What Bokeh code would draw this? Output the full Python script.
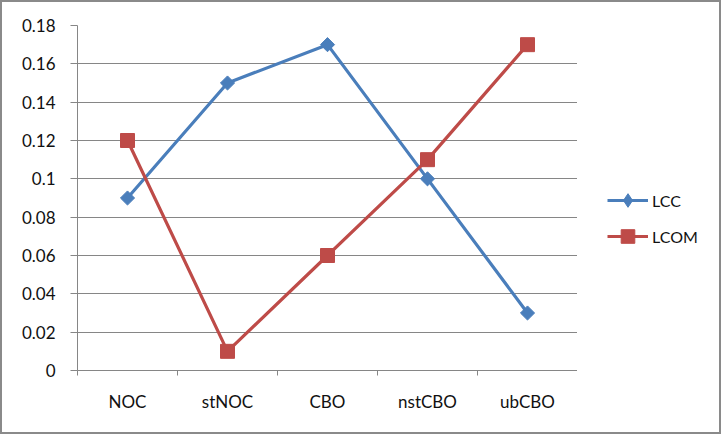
import numpy as np
from bokeh.plotting import figure
from bokeh.layouts import row
from bokeh.models import Range1d, FixedTicker, Legend, LegendItem
from bokeh.embed import file_html
from bokeh.resources import INLINE

categories = ["NOC", "stNOC", "CBO", "nstCBO", "ubCBO"]
lcc = [0.09, 0.15, 0.17, 0.10, 0.03]
lcom = [0.12, 0.01, 0.06, 0.11, 0.17]
y_tick_values = [0, 0.02, 0.04, 0.06, 0.08, 0.1, 0.12, 0.14, 0.16, 0.18]
y_tick_labels = ["0", "0.02", "0.04", "0.06", "0.08", "0.1", "0.12", "0.14", "0.16", "0.18"]
series_names = ["LCC", "LCOM"]

FONT = "Lato"
GREY = "#868686"
TEXT = "#111111"
BLUE = "#4A7EBB"
RED = "#BE4B48"

n = len(categories)
x = [i + 0.5 for i in range(n)]

# ---- main chart ----
p = figure(width=575, height=430, output_backend="svg", toolbar_location=None,
           x_range=Range1d(0, n), y_range=Range1d(y_tick_values[0], y_tick_values[-1]),
           min_border_left=75, min_border_right=0, min_border_top=23, min_border_bottom=62,
           background_fill_color="white", border_fill_color="white")
p.outline_line_color = None

# x axis: category labels at centers, ticks at boundaries
p.xaxis.ticker = FixedTicker(ticks=x, minor_ticks=list(range(n + 1)))
p.xaxis.major_label_overrides = {xv: c for xv, c in zip(x, categories)}
p.xaxis.major_tick_out = 0
p.xaxis.major_tick_in = 0
p.xaxis.minor_tick_out = 5
p.xaxis.minor_tick_in = 0
p.xaxis.minor_tick_line_color = GREY
p.xaxis.axis_line_color = GREY
p.xaxis.major_label_standoff = 15
p.xaxis.major_label_text_font = FONT
p.xaxis.major_label_text_font_size = "17px"
p.xaxis.major_label_text_color = TEXT
p.xgrid.visible = False

# y axis
p.yaxis.ticker = FixedTicker(ticks=y_tick_values, minor_ticks=[])
p.yaxis.major_label_overrides = {v: l for v, l in zip(y_tick_values, y_tick_labels)}
p.yaxis.major_tick_out = 7
p.yaxis.major_tick_in = 0
p.yaxis.major_tick_line_color = GREY
p.yaxis.axis_line_color = GREY
p.yaxis.major_label_standoff = 15
p.yaxis.major_label_text_font = FONT
p.yaxis.major_label_text_font_size = "17px"
p.yaxis.major_label_text_color = TEXT
p.ygrid.ticker = FixedTicker(ticks=y_tick_values)
p.ygrid.grid_line_color = GREY
p.ygrid.grid_line_width = 1

p.line(x, lcc, line_color=BLUE, line_width=3.2)
p.scatter(x, lcc, marker="square", angle=np.pi / 4, size=10,
          fill_color=BLUE, line_color=BLUE)
p.line(x, lcom, line_color=RED, line_width=3.2)
p.scatter(x, lcom, marker="square", size=14, fill_color=RED, line_color=RED)

# ---- legend panel ----
q = figure(width=142, height=430, output_backend="svg", toolbar_location=None,
           x_range=Range1d(0, 1), y_range=Range1d(0, 1),
           x_axis_type=None, y_axis_type=None, min_border=0,
           background_fill_color="white", border_fill_color="white")
q.outline_line_color = None
q.grid.visible = False
nan = [np.nan]
ql1 = q.line(nan, nan, line_color=BLUE, line_width=3.2)
qs1 = q.scatter(nan, nan, marker="diamond", size=10,
                fill_color=BLUE, line_color=BLUE)
ql2 = q.line(nan, nan, line_color=RED, line_width=3.2)
qs2 = q.scatter(nan, nan, marker="square", size=14, fill_color=RED, line_color=RED)

legend = Legend(items=[LegendItem(label=series_names[0], renderers=[ql1, qs1]),
                       LegendItem(label=series_names[1], renderers=[ql2, qs2])],
                location=(30, 117), orientation="vertical",
                glyph_width=41, glyph_height=34, label_height=34, spacing=2,
                label_standoff=4, padding=0, margin=0,
                border_line_color=None, background_fill_alpha=0,
                label_text_font=FONT, label_text_font_size="16px",
                label_text_color=TEXT)
q.add_layout(legend, "center")

layout = row(p, q)
layout.styles = {"border": "2px solid #8a8a8a"}

open("out.html", "w").write(file_html(layout, INLINE))
